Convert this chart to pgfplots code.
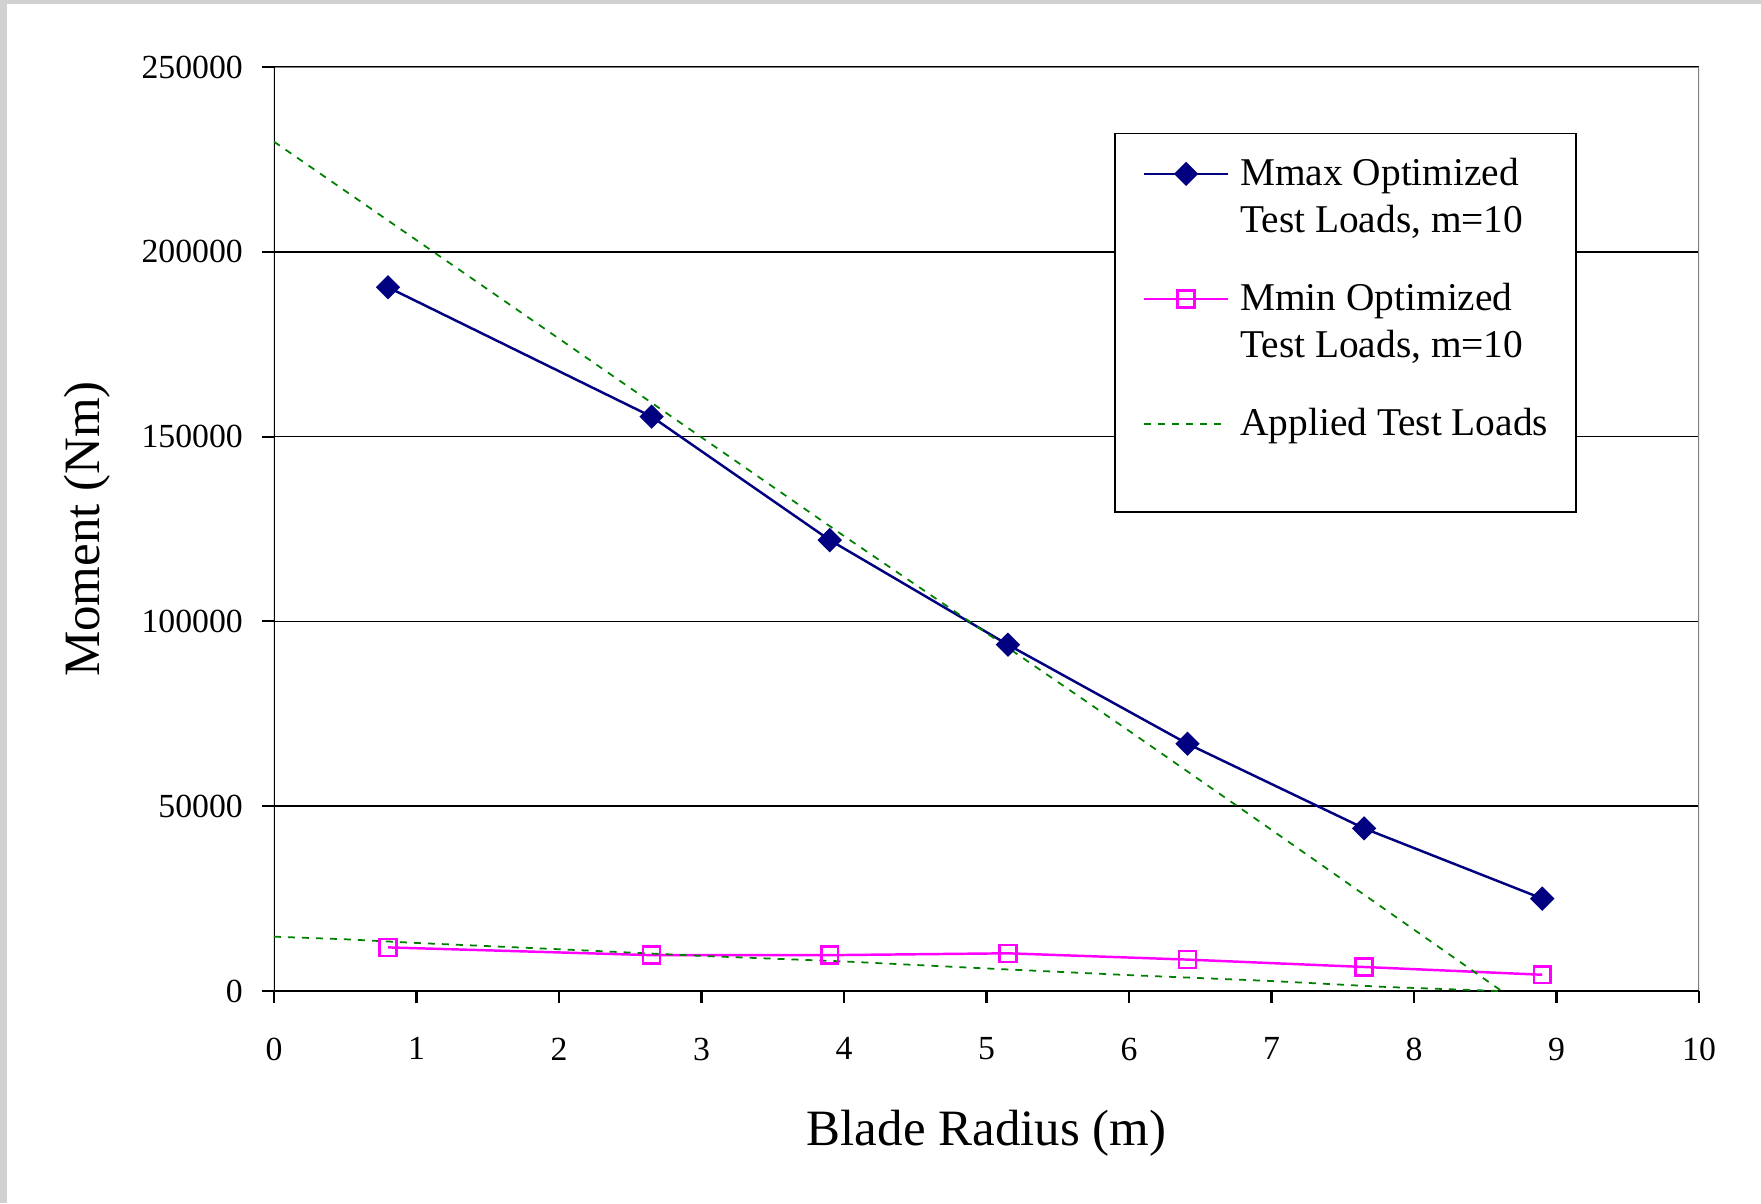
\documentclass[border=0pt]{standalone}
\usepackage{fontspec}
\setmainfont{Liberation Serif}
\usepackage{pgfplots}
\pgfplotsset{compat=1.18}

\definecolor{mmaxblue}{RGB}{0,0,128}
\definecolor{mminpink}{RGB}{255,0,255}
\definecolor{loadgreen}{RGB}{0,128,0}

\begin{document}
\begin{tikzpicture}
% page background with the grey strip on the left and top
\fill[black!18] (-27.4mm,-21.2mm) rectangle (148.7mm,99.1mm);
\fill[white] (-26.7mm,-21.2mm) rectangle (148.7mm,98.7mm);
\useasboundingbox (-27.4mm,-21.2mm) rectangle (148.7mm,99.1mm);
\begin{axis}[
    scale only axis,
    width=142.5mm, height=92.4mm,
    xmin=0, xmax=10, ymin=0, ymax=250000,
    xtick={0,1,2,3,4,5,6,7,8,9,10},
    xticklabels={0,1,2,3,4,5,6,7,8,9,10},
    ytick={0,50000,100000,150000,200000,250000},
    yticklabels={0,50000,100000,150000,200000,250000},
    scaled y ticks=false,
    axis line style={draw=none},
    tick align=outside,
    major tick length=1.2mm,
    tick style={black, line width=0.6pt},
    xtick pos=bottom, ytick pos=left,
    ymajorgrids,
    major grid style={black, line width=0.5pt},
    tick label style={font=\fontsize{9.6}{11.5}\selectfont},
    xticklabel style={anchor=north, inner sep=0pt, yshift=-3.4mm},
    yticklabel style={anchor=east, inner sep=0pt, xshift=-1.85mm},
    xlabel={Blade Radius (m)},
    ylabel={Moment (Nm)},
    xlabel style={at={(axis description cs:0.5,-0.1544)}, anchor=center,
        font=\fontsize{14.5}{17}\selectfont},
    ylabel style={at={(axis description cs:-0.131,0.5)}, anchor=center,
        font=\fontsize{14.5}{17}\selectfont},
    legend style={at={(axis description cs:0.5895,0.9291)}, anchor=north west,
        draw=black, line width=0.5pt, fill=white,
        inner xsep=2.8mm, inner ysep=1.95mm,
        row sep=3.08mm, column sep=1.1mm,
        cells={anchor=base west},
        nodes={inner sep=0pt, text depth={}},
        font=\fontsize{11.2}{13.4}\selectfont},
    legend image code/.code={
        \draw[mark repeat=2, mark phase=2, #1]
            plot coordinates {(0mm,1.2mm) (4.2mm,1.2mm) (8.4mm,1.2mm)};
    },
]
% plot area border: grey top/right, black axes left/bottom
\draw[gray, line width=0.6pt] (rel axis cs:0,1) -- (rel axis cs:1,1) -- (rel axis cs:1,0);
\draw[black, line width=0.6pt] (rel axis cs:0,1) -- (rel axis cs:0,0) -- (rel axis cs:1,0);

% Mmax optimized test loads
\addplot[color=mmaxblue, line width=0.7pt, mark=square*, mark size=2.1pt,
    mark options={rotate=45, fill=mmaxblue, solid}] coordinates {
    (0.80,190400) (2.65,155400) (3.90,122000) (5.15,93700)
    (6.41,66900) (7.65,44000) (8.90,25000)
};
\addlegendentry{\begin{tabular}[t]{@{}l@{}}Mmax Optimized\\Test Loads, m=10\end{tabular}}

% Mmin optimized test loads
\addplot[color=mminpink, line width=0.7pt, mark=square, mark size=2.4pt,
    mark options={solid}] coordinates {
    (0.80,11800) (2.65,9700) (3.90,9700) (5.15,10200)
    (6.41,8500) (7.65,6500) (8.90,4400)
};
\addlegendentry{\begin{tabular}[t]{@{}l@{}}Mmin Optimized\\Test Loads, m=10\end{tabular}}

% applied test loads (upper and lower)
\addplot[color=loadgreen, line width=0.5pt, dash pattern=on 0.7mm off 0.7mm] coordinates {
    (0,229800) (2,176500) (4,123100) (5,96850) (6,70400)
    (7,43600) (8,16600) (8.615,0)
};
\addlegendentry{\strut Applied Test Loads\rule[-5.66mm]{0pt}{5.66mm}}

\addplot[color=loadgreen, line width=0.5pt, dash pattern=on 0.7mm off 0.7mm, forget plot] coordinates {
    (0,14700) (0.5,14000) (1,13000) (2,11300) (3,9500) (4,8000)
    (5,6100) (6,4300) (7,2700) (7.8,1100) (8.6,0)
};
\end{axis}
\end{tikzpicture}
\end{document}
